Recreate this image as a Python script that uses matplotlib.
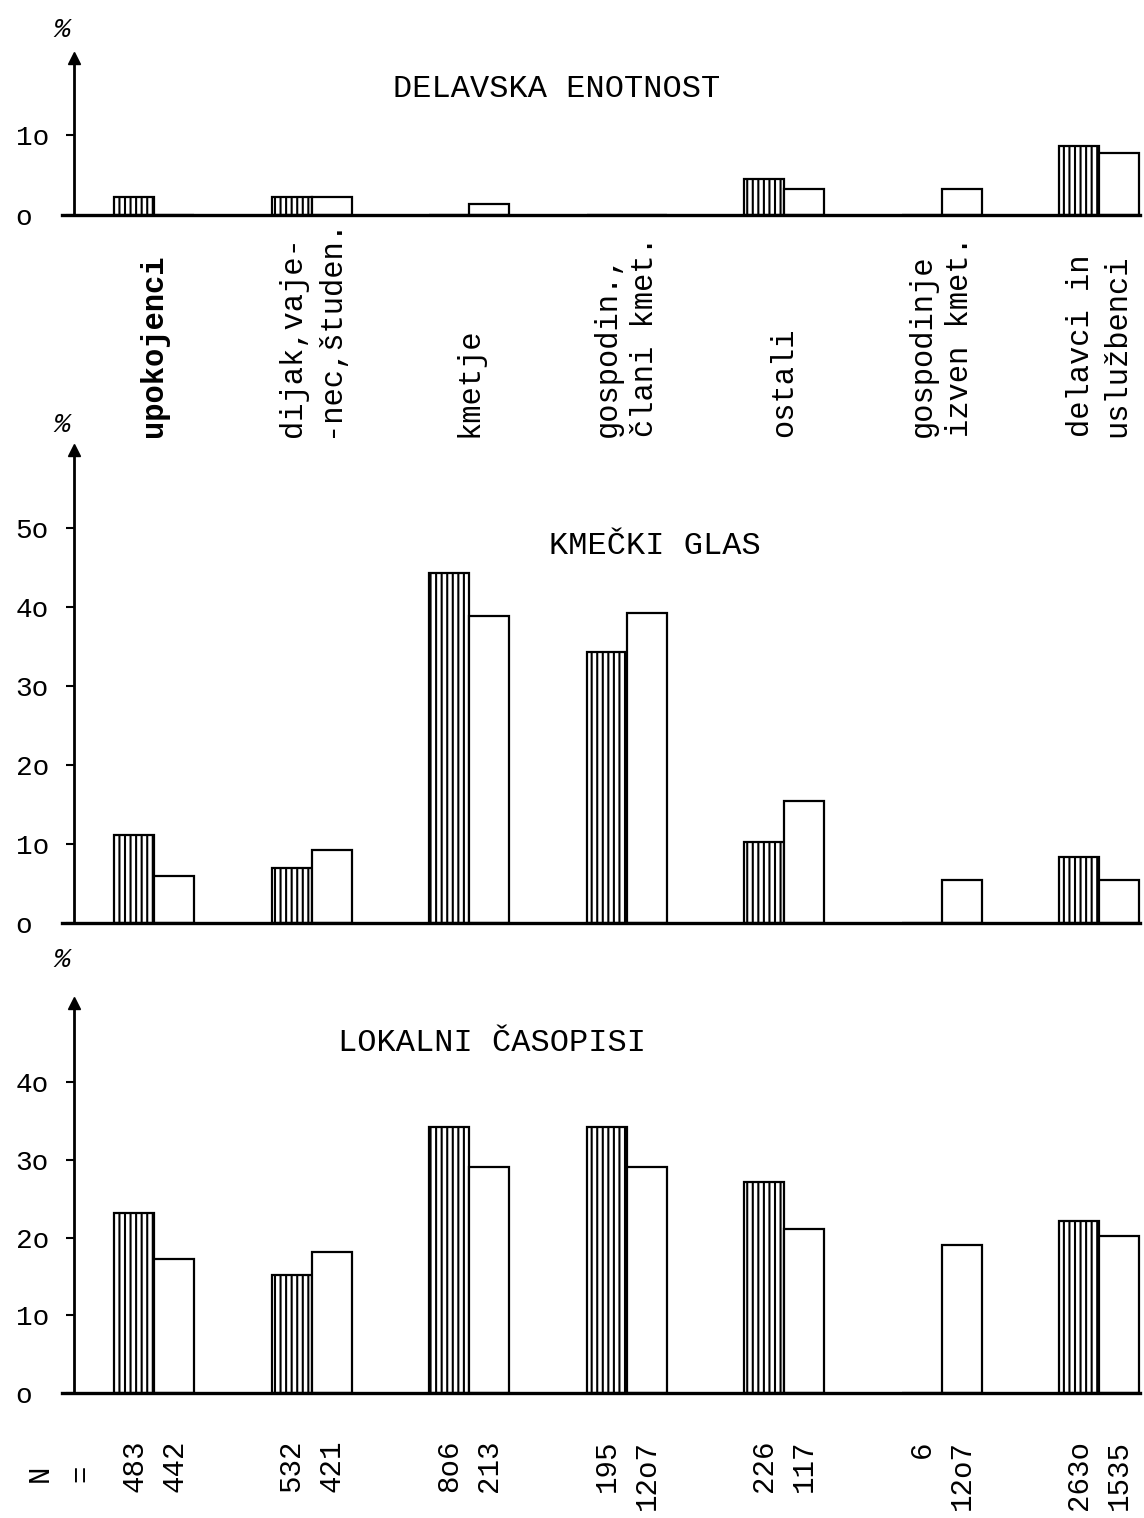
import matplotlib
matplotlib.use('Agg')
import matplotlib.pyplot as plt

# pisava - pisalni stroj
plt.rcParams['font.family'] = ['Liberation Mono', 'DejaVu Sans Mono']
plt.rcParams['hatch.linewidth'] = 1.5
plt.rcParams['hatch.color'] = 'black'

# podatki
kategorije = ['upokojenci', 'dijak,vaje-\n-nec,študen.', 'kmetje', 'gospodin.,\nčlani kmet.',
              'ostali', 'gospodinje\nizven kmet.', 'delavci in\nuslužbenci']

delavska_a = [2.3, 2.3, 0, 0, 4.5, 0, 8.6]
delavska_b = [0, 2.3, 1.4, 0, 3.3, 3.3, 7.7]

kmecki_a = [11.1, 7.0, 44.3, 34.3, 10.3, 0, 8.4]
kmecki_b = [6.0, 9.2, 38.9, 39.2, 15.5, 5.4, 5.5]

lokalni_a = [23.2, 15.2, 34.2, 34.2, 27.1, 0, 22.1]
lokalni_b = [17.2, 18.1, 29.1, 29.1, 21.1, 19.0, 20.2]

n_a = ['483', '532', '8o6', '195', '226', '6', '263o']
n_b = ['442', '421', '213', '12o7', '117', '12o7', '1535']

W, H = 1144, 1518
fig = plt.figure(figsize=(W / 100, H / 100), dpi=100)

# x v pikslih: sredina skupine = 154 + 157.5 * i
X0, DX = 154, 157.5
xlim = ((62 - X0) / DX, (1144 - X0) / DX)
x_os = (74 - X0) / DX
sirina = 40 / DX
x = list(range(len(kategorije)))


def panel(nic_px, px_enota, zgoraj_px, spodaj_px, vrh, ticks, oznake, naslov, naslov_xy, a, b):
    ax = fig.add_axes([62 / W, 1 - spodaj_px / H, (W - 62) / W, (spodaj_px - zgoraj_px) / H])
    ax.set_xlim(xlim)
    ax.set_ylim(-(spodaj_px - nic_px) / px_enota, (nic_px - zgoraj_px) / px_enota)
    ax.patch.set_alpha(0)

    ax.bar([i - sirina / 2 for i in x], a, width=sirina, color='white', edgecolor='black',
           linewidth=1.6, hatch='|||')
    ax.bar([i + sirina / 2 for i in x], b, width=sirina, color='white', edgecolor='black',
           linewidth=1.6)

    # osnovna crta
    ax.plot([xlim[0], (1140 - X0) / DX], [0, 0], color='black', lw=2.4, clip_on=False)

    for s in ['top', 'right', 'bottom']:
        ax.spines[s].set_visible(False)
    ax.spines['left'].set_position(('data', x_os))
    ax.spines['left'].set_bounds(0, vrh)
    ax.spines['left'].set_linewidth(2)
    ax.plot([x_os], [vrh], marker='^', ms=9, color='black', clip_on=False)

    ax.set_xticks([])
    ax.set_yticks(ticks)
    ax.set_yticklabels(oznake)
    ax.tick_params(axis='y', direction='out', length=6, width=1.5, pad=36, labelsize=20)
    for lab in ax.get_yticklabels():
        lab.set_horizontalalignment('left')

    ax.text(naslov_xy[0], naslov_xy[1], naslov, transform=fig.transFigure,
            ha='center', va='center', fontsize=23)
    return ax


ax1 = panel(215, 8.0, 40, 218, (215 - 58) / 8.0, [0, 10], ['o', '1o'],
            'DELAVSKA ENOTNOST', (557 / W, 1 - 89 / H), delavska_a, delavska_b)
ax2 = panel(923, 7.9, 430, 927, (923 - 450) / 7.9, [0, 10, 20, 30, 40, 50],
            ['o', '1o', '2o', '3o', '4o', '5o'],
            'KMEČKI GLAS', (655 / W, 1 - 546 / H), kmecki_a, kmecki_b)
ax3 = panel(1393, 7.775, 985, 1397, (1393 - 1003) / 7.775, [0, 10, 20, 30, 40],
            ['o', '1o', '2o', '3o', '4o'],
            'LOKALNI ČASOPISI', (492 / W, 1 - 1043 / H), lokalni_a, lokalni_b)

# znaki %
for y in [30, 425, 960]:
    fig.text(62 / W, 1 - y / H, '%', ha='center', va='center', fontsize=20, style='italic')

# kategorije pod prvim grafom
for i, k in enumerate(kategorije):
    ax1.text(i, (215 - 437) / 8.0, k, rotation=90, ha='center', va='bottom',
             multialignment='left', linespacing=1.3, fontsize=22,
             fontweight='bold' if i == 0 else 'normal', clip_on=False)

# N pod zadnjim grafom
fig.text(40 / W, 1 - 1473 / H, 'N', rotation=90, ha='center', va='center', fontsize=21)
fig.text(81 / W, 1 - 1473 / H, '=', rotation=90, ha='center', va='center', fontsize=21)
ny = (1393 - 1440) / 7.775
for i in x:
    ax3.text(i - sirina / 2, ny, n_a[i], rotation=90, ha='center', va='top', fontsize=21, clip_on=False)
    ax3.text(i + sirina / 2, ny, n_b[i], rotation=90, ha='center', va='top', fontsize=21, clip_on=False)

fig.savefig('out.png', dpi=100, facecolor='white')
